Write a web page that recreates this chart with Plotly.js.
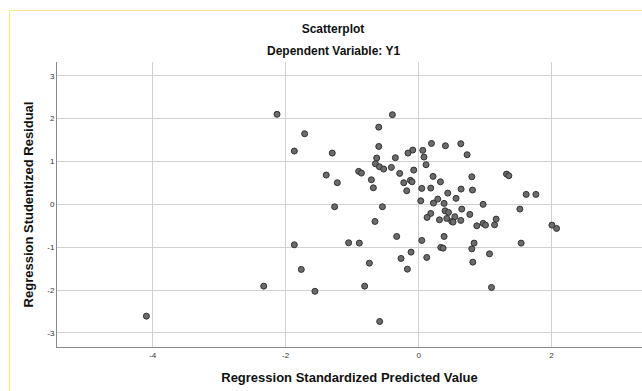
<!DOCTYPE html>
<html>
<head>
<meta charset="utf-8">
<script src="https://cdn.plot.ly/plotly-3.0.1.min.js"></script>
<style>
  html, body { margin: 0; padding: 0; background: #ffffff; overflow: hidden; }
  #chart { position: absolute; left: 0; top: 0; width: 642px; height: 391px; }
  #frame { position: absolute; left: 9px; top: 10px; width: 640px; height: 390px;
           border-left: 1.5px solid #fde68a; border-top: 1.5px solid #fde68a;
           pointer-events: none; z-index: 10; }
</style>
</head>
<body>
<div id="chart"></div>
<div id="frame"></div>
<script>
// Regression Standardized Predicted Value (x) and Studentized Residual (y)
const predicted = [
  -4.095, -2.13, -1.715, -1.87, -1.30, -1.39, -1.223, -1.264, -1.87, -1.053,
  -1.765, -2.33, -1.56, -0.395, -0.60, 0.193, 0.403, 0.634, -0.60, 0.062,
  -0.089, -0.16, 0.081, 0.729, -0.631, -0.35, -0.65, -0.59, -0.526, -0.41,
  0.111, -0.074, -0.285, -0.902, -0.861, -0.711, -0.681, -0.224, -0.124, -0.099,
  -0.179, 0.217, 0.328, 0.80, 0.047, 0.182, 0.438, 0.639, 0.563, 0.032,
  0.223, 0.288, 0.383, -0.545, 0.649, 0.77, 0.634, 0.398, 0.449, 0.182,
  0.127, 0.313, 0.423, 0.498, 0.544, 0.518, -0.657, -0.892, -0.33, 0.047,
  0.383, -0.114, -0.265, 0.333, 0.368, 0.122, -0.741, -0.169, -0.812, -0.586,
  0.80, 0.834, 0.81, 0.97, 1.322, 1.357, 1.618, 1.764, 1.523, 0.875,
  0.97, 1.006, 1.142, 1.166, 2.005, 2.075, 1.542, 1.066, 0.815, 1.096
];
const residual = [
  -2.61, 2.10, 1.646, 1.242, 1.195, 0.682, 0.503, -0.058, -0.945, -0.898,
  -1.52, -1.91, -2.03, 2.09, 1.80, 1.42, 1.366, 1.413, 1.35, 1.258,
  1.265, 1.195, 1.102, 1.156, 1.079, 1.086, 0.946, 0.876, 0.822, 0.861,
  0.923, 0.798, 0.721, 0.768, 0.728, 0.572, 0.385, 0.503, 0.558, 0.525,
  0.315, 0.651, 0.525, 0.642, 0.371, 0.378, 0.261, 0.355, 0.138, 0.082,
  0.028, 0.121, 0.021, -0.058, -0.112, -0.236, -0.376, -0.152, -0.19, -0.213,
  -0.306, -0.362, -0.33, -0.40, -0.29, -0.416, -0.40, -0.906, -0.75, -0.843,
  -0.75, -1.116, -1.264, -1.007, -1.023, -1.24, -1.373, -1.513, -1.91, -2.735,
  -1.04, -0.906, 0.332, -0.002, 0.705, 0.666, 0.231, 0.231, -0.112, -0.502,
  -0.446, -0.486, -0.479, -0.346, -0.486, -0.563, -0.906, -1.156, -1.35, -1.94
];
const xTicks = [-4, -2, 0, 2];
const yTicks = [-3, -2, -1, 0, 1, 2, 3];
const chartTitle = "Scatterplot";
const chartSubtitle = "Dependent Variable: Y1";
const xTitle = "Regression Standardized Predicted Value";
const yTitle = "Regression Studentized Residual";

const FONT = "Liberation Sans, Arial, sans-serif";

const trace = {
  type: "scatter",
  mode: "markers",
  x: predicted,
  y: residual,
  marker: { size: 6, color: "#6b6b6b", line: { color: "#333333", width: 1 } },
  hoverinfo: "x+y",
  showlegend: false
};

const layout = {
  width: 642,
  height: 391,
  margin: { l: 57, r: 0, t: 62, b: 44, pad: 0 },
  paper_bgcolor: "#ffffff",
  plot_bgcolor: "#ffffff",
  font: { family: FONT, color: "#222222" },
  title: {
    text: chartTitle,
    font: { family: FONT, size: 12, color: "#111111", weight: "bold" },
    xref: "container", x: 333 / 642, xanchor: "center",
    yref: "container", y: 1 - 29 / 391, yanchor: "middle"
  },
  annotations: [{
    text: chartSubtitle,
    xref: "paper", x: (333 - 57) / 585, xanchor: "center",
    yref: "paper", y: (346.7 - 51) / 284.7, yanchor: "middle",
    showarrow: false,
    font: { family: FONT, size: 12, color: "#111111", weight: "bold" }
  }],
  xaxis: {
    range: [-5.44, 3.36],
    tickvals: xTicks,
    ticktext: xTicks.map(String),
    ticks: "",
    tickfont: { family: FONT, size: 8, color: "#333333" },
    showgrid: true,
    gridcolor: "#d2d2d2",
    gridwidth: 1,
    zeroline: false,
    showline: true,
    linecolor: "#8a8a8a",
    linewidth: 1,
    mirror: false,
    title: {
      text: xTitle,
      font: { family: FONT, size: 13, color: "#111111", weight: "bold" },
      standoff: 14
    }
  },
  yaxis: {
    range: [-3.33, 3.32],
    tickvals: yTicks,
    ticktext: yTicks.map(String),
    ticks: "",
    tickfont: { family: FONT, size: 8, color: "#333333" },
    showgrid: true,
    gridcolor: "#d2d2d2",
    gridwidth: 1,
    zeroline: false,
    showline: true,
    linecolor: "#8a8a8a",
    linewidth: 1,
    title: {
      text: yTitle,
      font: { family: FONT, size: 13, color: "#111111", weight: "bold" },
      standoff: 10
    }
  }
};

Plotly.newPlot("chart", [trace], layout, { displayModeBar: false, staticPlot: true });
</script>
</body>
</html>
